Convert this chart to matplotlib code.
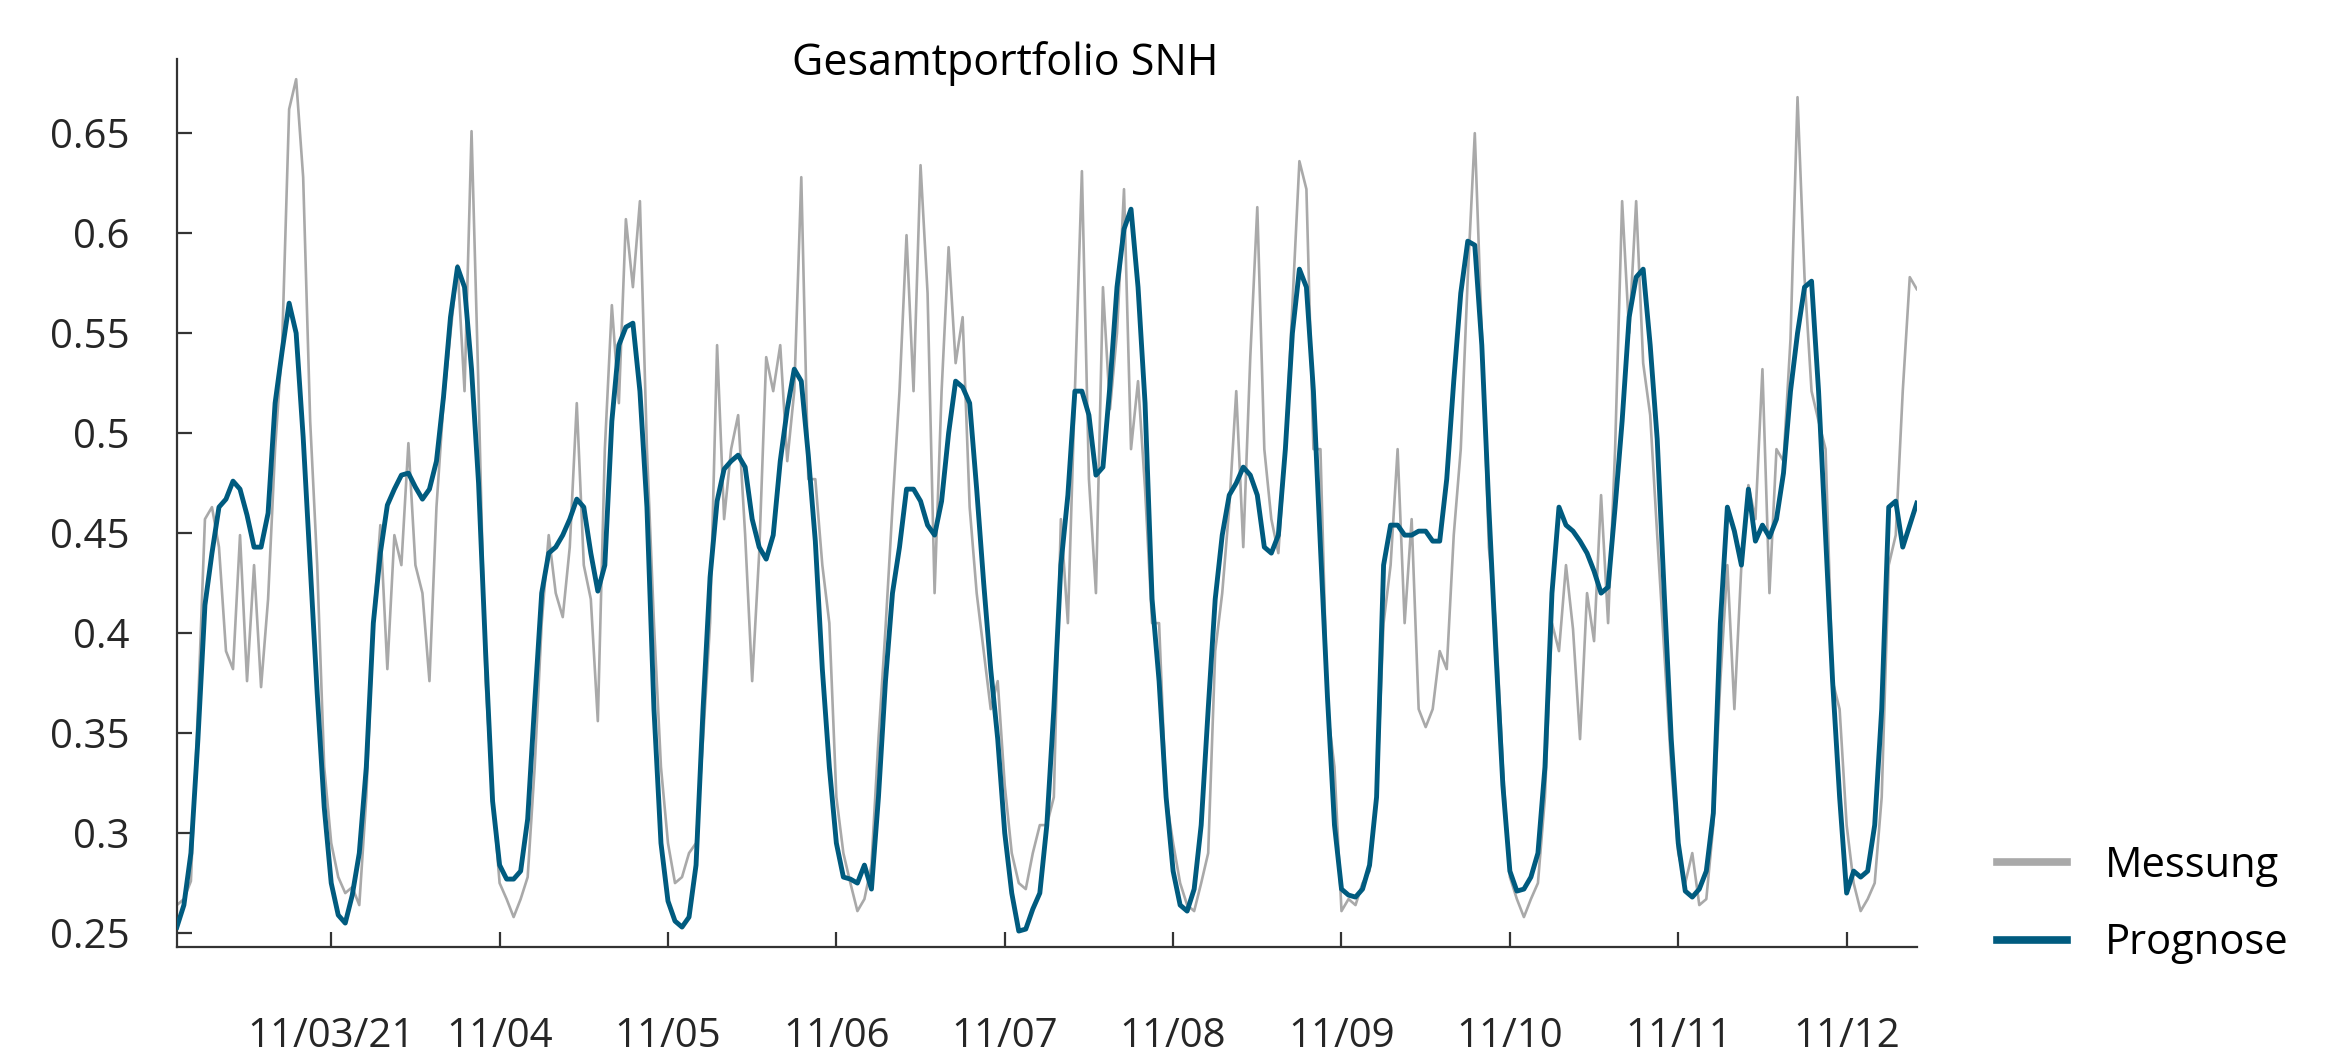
import numpy as np
import matplotlib
matplotlib.use('Agg')
import matplotlib.pyplot as plt
from matplotlib.lines import Line2D

plt.rcParams['font.family'] = ['Open Sans', 'DejaVu Sans']

# stundenwerte ab 02.11. 02:00 (h = -22 relativ zu 03.11. 00:00)
start_hour = -22

messung = [
    0.264, 0.267, 0.276, 0.362, 0.457, 0.463, 0.443, 0.391, 0.382, 0.449, 0.376, 0.434,
    0.373, 0.417, 0.492, 0.544, 0.662, 0.677, 0.628, 0.506, 0.434, 0.333,
    # 11/03
    0.295, 0.278, 0.270, 0.273, 0.264, 0.318, 0.405, 0.454, 0.382, 0.449, 0.434, 0.495,
    0.434, 0.420, 0.376, 0.463, 0.515, 0.550, 0.584, 0.521, 0.651, 0.521, 0.376, 0.318,
    # 11/04
    0.275, 0.267, 0.258, 0.267, 0.278, 0.333, 0.405, 0.449, 0.420, 0.408, 0.443, 0.515,
    0.434, 0.417, 0.356, 0.492, 0.564, 0.515, 0.607, 0.573, 0.616, 0.492, 0.405, 0.333,
    # 11/05
    0.295, 0.275, 0.278, 0.290, 0.295, 0.347, 0.405, 0.544, 0.457, 0.492, 0.509, 0.449,
    0.376, 0.440, 0.538, 0.521, 0.544, 0.486, 0.521, 0.628, 0.477, 0.477, 0.434, 0.405,
    # 11/06
    0.318, 0.290, 0.275, 0.261, 0.267, 0.284, 0.347, 0.402, 0.463, 0.521, 0.599, 0.521,
    0.634, 0.570, 0.420, 0.521, 0.593, 0.535, 0.558, 0.463, 0.420, 0.391, 0.362, 0.376,
    # 11/07
    0.324, 0.290, 0.275, 0.272, 0.290, 0.304, 0.304, 0.318, 0.457, 0.405, 0.521, 0.631,
    0.477, 0.420, 0.573, 0.512, 0.550, 0.622, 0.492, 0.526, 0.472, 0.405, 0.405, 0.318,
    # 11/08
    0.295, 0.275, 0.264, 0.261, 0.275, 0.290, 0.391, 0.420, 0.463, 0.521, 0.443, 0.538,
    0.613, 0.492, 0.457, 0.440, 0.492, 0.564, 0.636, 0.622, 0.492, 0.492, 0.362, 0.333,
    # 11/09
    0.261, 0.267, 0.264, 0.275, 0.281, 0.318, 0.405, 0.434, 0.492, 0.405, 0.457, 0.362,
    0.353, 0.362, 0.391, 0.382, 0.449, 0.492, 0.578, 0.650, 0.550, 0.443, 0.405, 0.333,
    # 11/10
    0.278, 0.267, 0.258, 0.267, 0.275, 0.318, 0.405, 0.391, 0.434, 0.402, 0.347, 0.420,
    0.396, 0.469, 0.405, 0.492, 0.616, 0.550, 0.616, 0.535, 0.509, 0.449, 0.391, 0.333,
    # 11/11
    0.290, 0.275, 0.290, 0.264, 0.267, 0.304, 0.376, 0.434, 0.362, 0.434, 0.474, 0.457,
    0.532, 0.420, 0.492, 0.486, 0.547, 0.668, 0.578, 0.521, 0.506, 0.492, 0.376, 0.362,
    # 11/12
    0.304, 0.275, 0.261, 0.267, 0.275, 0.318, 0.434, 0.449, 0.521, 0.578, 0.572,
]

prognose = [
    0.253, 0.264, 0.290, 0.347, 0.414, 0.440, 0.463, 0.467, 0.476, 0.472, 0.459, 0.443,
    0.443, 0.460, 0.515, 0.541, 0.565, 0.550, 0.498, 0.434, 0.370, 0.313,
    # 11/03
    0.275, 0.259, 0.255, 0.269, 0.290, 0.333, 0.405, 0.440, 0.464, 0.472, 0.479, 0.480,
    0.473, 0.467, 0.472, 0.486, 0.518, 0.558, 0.583, 0.573, 0.532, 0.475, 0.391, 0.316,
    # 11/04
    0.284, 0.277, 0.277, 0.281, 0.307, 0.365, 0.420, 0.440, 0.443, 0.449, 0.457, 0.467,
    0.463, 0.440, 0.421, 0.434, 0.506, 0.544, 0.553, 0.555, 0.521, 0.463, 0.362, 0.295,
    # 11/05
    0.266, 0.256, 0.253, 0.258, 0.284, 0.362, 0.428, 0.466, 0.482, 0.486, 0.489, 0.483,
    0.457, 0.443, 0.437, 0.449, 0.486, 0.512, 0.532, 0.526, 0.489, 0.446, 0.382, 0.333,
    # 11/06
    0.295, 0.278, 0.277, 0.275, 0.284, 0.272, 0.318, 0.376, 0.420, 0.443, 0.472, 0.472,
    0.466, 0.454, 0.449, 0.466, 0.500, 0.526, 0.523, 0.515, 0.472, 0.425, 0.382, 0.347,
    # 11/07
    0.300, 0.270, 0.251, 0.252, 0.262, 0.270, 0.304, 0.362, 0.434, 0.469, 0.521, 0.521,
    0.509, 0.479, 0.483, 0.524, 0.573, 0.602, 0.612, 0.573, 0.515, 0.417, 0.376, 0.318,
    # 11/08
    0.281, 0.264, 0.261, 0.272, 0.304, 0.362, 0.417, 0.449, 0.469, 0.475, 0.483, 0.479,
    0.469, 0.443, 0.440, 0.449, 0.492, 0.550, 0.582, 0.573, 0.521, 0.443, 0.368, 0.304,
    # 11/09
    0.272, 0.269, 0.268, 0.272, 0.284, 0.318, 0.434, 0.454, 0.454, 0.449, 0.449, 0.451,
    0.451, 0.446, 0.446, 0.477, 0.526, 0.570, 0.596, 0.594, 0.544, 0.463, 0.391, 0.324,
    # 11/10
    0.281, 0.271, 0.272, 0.278, 0.290, 0.333, 0.420, 0.463, 0.454, 0.451, 0.446, 0.440,
    0.431, 0.420, 0.423, 0.463, 0.506, 0.558, 0.578, 0.582, 0.544, 0.497, 0.420, 0.347,
    # 11/11
    0.295, 0.271, 0.268, 0.272, 0.281, 0.310, 0.405, 0.463, 0.451, 0.434, 0.472, 0.446,
    0.454, 0.448, 0.457, 0.480, 0.521, 0.550, 0.573, 0.576, 0.521, 0.449, 0.376, 0.318,
    # 11/12
    0.270, 0.281, 0.278, 0.281, 0.304, 0.362, 0.463, 0.466, 0.443, 0.454, 0.465,
]

tick_labels = ['11/03/21', '11/04', '11/05', '11/06', '11/07',
               '11/08', '11/09', '11/10', '11/11', '11/12']
y_ticks = [0.25, 0.3, 0.35, 0.4, 0.45, 0.5, 0.55, 0.6, 0.65]
y_labels = ['0.25', '0.3', '0.35', '0.4', '0.45', '0.5', '0.55', '0.6', '0.65']

grau = '#a9a9a9'
blau = '#005b7f'
achse = '#333333'

x = (start_hour + np.arange(len(messung))) / 24.0

fig = plt.figure(figsize=(23.49, 10.57), dpi=100)
ax = fig.add_axes([0.0753, 0.104, 0.7407, 0.840])

ax.plot(x, messung, color=grau, lw=1.9, zorder=2)
ax.plot(x, prognose, color=blau, lw=3.5, zorder=3)

ax.set_xlim(x[0], x[-1])
ax.set_ylim(0.243, 0.687)

ax.set_xticks(np.arange(len(tick_labels)))
ax.set_xticklabels(tick_labels)
ax.set_yticks(y_ticks)
ax.set_yticklabels(y_labels)

for s in ['top', 'right']:
    ax.spines[s].set_visible(False)
for s in ['left', 'bottom']:
    ax.spines[s].set_color(achse)
    ax.spines[s].set_linewidth(1.6)

ax.tick_params(axis='both', direction='in', length=11, width=1.6, color=achse,
               labelsize=29, labelcolor='#262626')
ax.tick_params(axis='x', pad=50)
ax.tick_params(axis='y', pad=34)

fig.text(0.428, 0.940, 'Gesamtportfolio SNH', ha='center', va='center',
         fontsize=31, color='black')

handles = [Line2D([], [], color=grau, lw=5.5), Line2D([], [], color=blau, lw=5.5)]
fig.legend(handles, ['Messung', 'Prognose'], loc='upper left',
           bbox_to_anchor=(0.850, 0.201), frameon=False, fontsize=30,
           handlelength=1.7, handletextpad=0.9, labelspacing=0.86,
           borderpad=0, borderaxespad=0)

fig.savefig('out.png', dpi=100)
